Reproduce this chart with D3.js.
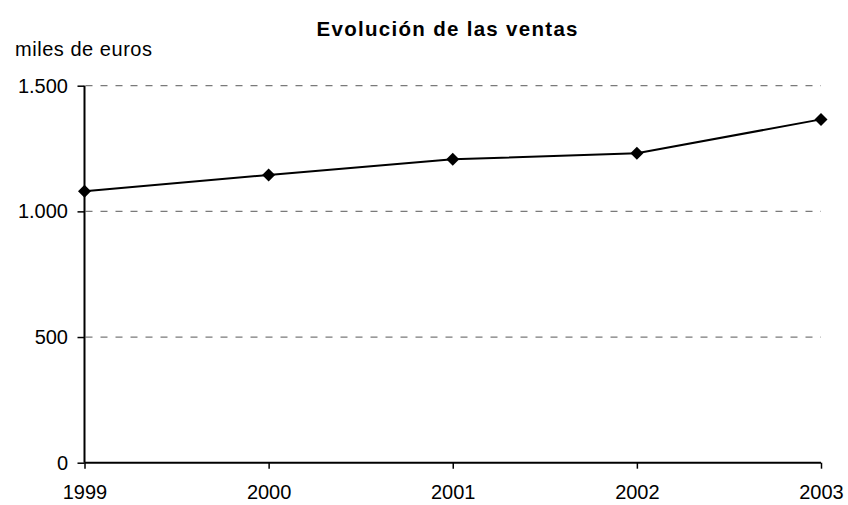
<!DOCTYPE html>
<html>
<head>
<meta charset="utf-8">
<script src="https://cdn.jsdelivr.net/npm/d3@7"></script>
<style>
  html, body { margin: 0; padding: 0; background: #fff; }
  svg { display: block; font-family: "Liberation Sans", Arial, sans-serif; }
</style>
</head>
<body>
<svg id="chart" width="848" height="505"></svg>
<script>
// Ventas anuales (miles de euros)
const years = ["1999", "2000", "2001", "2002", "2003"];
const sales = [1080, 1145, 1207, 1231, 1366];
const yTicks = [0, 500, 1000, 1500];
const yTickLabels = ["0", "500", "1.000", "1.500"];

const svg = d3.select("#chart");
const plotLeft = 84.5, plotRight = 821, plotTop = 85.7, plotBottom = 462.7;

const x = d3.scalePoint().domain(years).range([plotLeft, plotRight]);
const y = d3.scaleLinear().domain([0, 1500]).range([plotBottom, plotTop]);

// Title and unit label
svg.append("text")
  .attr("x", 316.5).attr("y", 36)
  .attr("font-size", 20.5).attr("font-weight", "bold")
  .attr("textLength", 261).attr("lengthAdjust", "spacing")
  .text("Evolución de las ventas");
svg.append("text")
  .attr("x", 15).attr("y", 56)
  .attr("font-size", 20)
  .attr("textLength", 137).attr("lengthAdjust", "spacing")
  .text("miles de euros");

// Dashed gridlines
svg.append("g")
  .selectAll("line")
  .data(yTicks.filter(d => d > 0))
  .join("line")
  .attr("x1", plotLeft + 1).attr("x2", plotRight)
  .attr("y1", d => y(d)).attr("y2", d => y(d))
  .attr("stroke", "#7a7a7a").attr("stroke-width", 1.3)
  .attr("stroke-dasharray", "7,8");

// Y axis
const yAxis = svg.append("g")
  .attr("transform", `translate(${plotLeft},0)`)
  .call(d3.axisLeft(y).tickValues(yTicks)
    .tickFormat((d, i) => yTickLabels[i]).tickSize(7).tickPadding(9.5));
yAxis.select(".domain").attr("stroke", "#000").attr("stroke-width", 2).attr("d", `M0,${plotBottom}V${plotTop}`);
yAxis.selectAll(".tick line").attr("stroke", "#000").attr("stroke-width", 1.5);
yAxis.selectAll(".tick text").attr("font-size", 20).attr("fill", "#000")
  .attr("font-family", "Liberation Sans, Arial, sans-serif");

// X axis
const xAxis = svg.append("g")
  .attr("transform", `translate(0,${plotBottom})`)
  .call(d3.axisBottom(x).tickSize(6).tickPadding(16));
xAxis.select(".domain").attr("stroke", "#000").attr("stroke-width", 2).attr("d", `M${plotLeft},0H${plotRight}`);
xAxis.selectAll(".tick line").attr("stroke", "#000").attr("stroke-width", 1.5);
xAxis.selectAll(".tick text").attr("font-size", 20).attr("fill", "#000")
  .attr("font-family", "Liberation Sans, Arial, sans-serif");

// Sales line
const pts = years.map((yr, i) => [x(yr), y(sales[i])]);
svg.append("path")
  .attr("d", d3.line()(pts))
  .attr("fill", "none").attr("stroke", "#000").attr("stroke-width", 2);

// Diamond markers
svg.append("g")
  .selectAll("path")
  .data(pts)
  .join("path")
  .attr("transform", d => `translate(${d[0]},${d[1]})`)
  .attr("d", "M0,-6.5L6.5,0L0,6.5L-6.5,0Z")
  .attr("fill", "#000");
</script>
</body>
</html>
